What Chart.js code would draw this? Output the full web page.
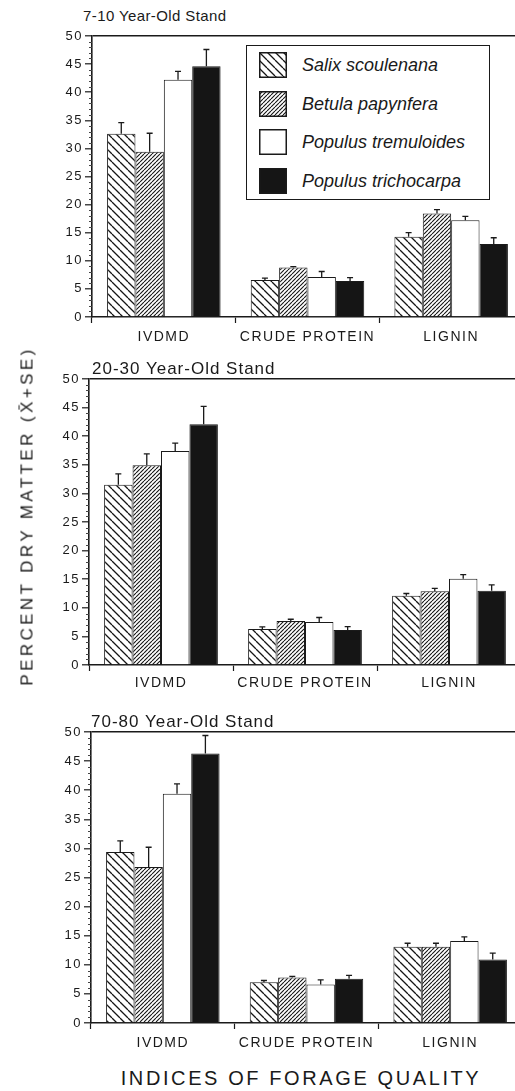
<!DOCTYPE html>
<html>
<head>
<meta charset="utf-8">
<script src="https://cdn.jsdelivr.net/npm/chart.js@4.4.0/dist/chart.umd.min.js"></script>
<style>
  html, body { margin: 0; padding: 0; background: #fff; }
  body {
    width: 515px; height: 1091px; overflow: hidden; position: relative;
    font-family: "Liberation Sans", Arial, Helvetica, sans-serif; color: #1a1a1a;
  }
  canvas.panel { position: absolute; left: 0; }
  .txt { position: absolute; white-space: nowrap; line-height: 1; }
  #legend {
    position: absolute; left: 246px; top: 45px; width: 244px; height: 155px;
    box-sizing: border-box; border: 1px solid #1a1a1a; background: #fff;
  }
  #legend canvas { position: absolute; left: 12px; }
  #legend span { position: absolute; left: 55px; font-size: 18px; font-style: italic; line-height: 1; white-space: nowrap; }
</style>
</head>
<body>

<canvas id="c0" class="panel"></canvas>
<canvas id="c1" class="panel"></canvas>
<canvas id="c2" class="panel"></canvas>

<div id="t0" class="txt" style="left:83px; top:8px; font-size:15px; letter-spacing:0.4px;"></div>
<div id="t1" class="txt" style="left:92px; top:360px; font-size:17px; letter-spacing:1px;"></div>
<div id="t2" class="txt" style="left:91px; top:713px; font-size:17px; letter-spacing:1px;"></div>

<div class="txt" style="left:27px; top:516px; font-size:17px; letter-spacing:3.4px; transform: translate(-50%, -50%) rotate(-90deg);">PERCENT DRY MATTER (X&#772;+SE)</div>
<div class="txt" style="left:301px; top:1078px; font-size:20px; letter-spacing:2.6px; transform: translate(-50%, -50%);">INDICES OF FORAGE QUALITY</div>

<div id="legend"></div>

<script>
// categories on the x axis
const categories = ['IVDMD', 'CRUDE PROTEIN', 'LIGNIN'];
const species = ['Salix scoulenana', 'Betula papynfera', 'Populus tremuloides', 'Populus trichocarpa'];
const standTitles = ['7-10 Year-Old Stand', '20-30 Year-Old Stand', '70-80 Year-Old Stand'];
const yTicks = [0, 5, 10, 15, 20, 25, 30, 35, 40, 45, 50];

// one row per species: [IVDMD, crude protein, lignin]
const means7to10 = [
  [32.6, 6.6, 14.3],
  [29.4, 8.8, 18.4],
  [42.2, 7.1, 17.2],
  [44.6, 6.4, 13.0]
];
const se7to10 = [
  [2.0, 0.3, 0.7],
  [3.3, 0.15, 0.7],
  [1.5, 1.0, 0.7],
  [3.0, 0.6, 1.1]
];

const means20to30 = [
  [31.5, 6.3, 12.1],
  [34.9, 7.7, 12.9],
  [37.4, 7.5, 15.1],
  [42.1, 6.1, 13.0]
];
const se20to30 = [
  [1.9, 0.35, 0.4],
  [2.0, 0.3, 0.5],
  [1.4, 0.8, 0.7],
  [3.1, 0.6, 1.0]
];

const means70to80 = [
  [29.4, 7.0, 13.1],
  [26.8, 7.8, 13.1],
  [39.4, 6.6, 14.1],
  [46.3, 7.6, 10.9]
];
const se70to80 = [
  [1.9, 0.3, 0.6],
  [3.4, 0.2, 0.6],
  [1.7, 0.8, 0.7],
  [3.1, 0.6, 1.1]
];

const allMeans = [means7to10, means20to30, means70to80];
const allSe = [se7to10, se20to30, se70to80];

// canvas placement for each panel (page pixels)
const layouts = [
  { top: 26, height: 321, left: 92, padRight: 7, labelPad: 6 },
  { top: 369, height: 326, left: 89, padRight: 9, labelPad: 4 },
  { top: 722, height: 331, left: 91, padRight: 8, labelPad: 5.5 }
];

const FONT = '"Liberation Sans", Arial, Helvetica, sans-serif';
const INK = '#1a1a1a';

function hatch(dir, p, lw) {
  const c = document.createElement('canvas');
  c.width = p; c.height = p;
  const g = c.getContext('2d');
  g.fillStyle = '#fff';
  g.fillRect(0, 0, p, p);
  g.strokeStyle = '#151515';
  g.lineWidth = lw;
  g.beginPath();
  for (let k = -1; k <= 1; k++) {
    if (dir === 'back') { g.moveTo(k * p, 0); g.lineTo(k * p + p, p); }
    else { g.moveTo(k * p, p); g.lineTo(k * p + p, 0); }
  }
  g.stroke();
  return g.createPattern(c, 'repeat');
}

const fills = [hatch('back', 8, 1.3), hatch('fwd', 4, 1.1), '#ffffff', '#151515'];

// error bars (mean + SE) on each bar
const errorBars = {
  id: 'errorBars',
  afterDatasetsDraw(chart) {
    const ctx = chart.ctx;
    const y = chart.scales.y;
    ctx.save();
    ctx.strokeStyle = INK;
    ctx.lineWidth = 1.3;
    chart.data.datasets.forEach((ds, i) => {
      chart.getDatasetMeta(i).data.forEach((bar, j) => {
        const top = y.getPixelForValue(ds.data[j] + ds.errors[j]);
        ctx.beginPath();
        ctx.moveTo(bar.x, bar.y);
        ctx.lineTo(bar.x, top);
        ctx.moveTo(bar.x - 3, top);
        ctx.lineTo(bar.x + 3, top);
        ctx.stroke();
      });
    });
    ctx.restore();
  }
};

// small unit ticks on the y axis
const minorTicks = {
  id: 'minorTicks',
  afterDraw(chart) {
    const ctx = chart.ctx;
    const y = chart.scales.y;
    const x0 = chart.chartArea.left;
    ctx.save();
    ctx.strokeStyle = '#444';
    ctx.lineWidth = 1;
    ctx.beginPath();
    for (let v = 1; v < 50; v++) {
      if (v % 5 === 0) continue;
      const py = Math.round(y.getPixelForValue(v)) + 0.5;
      ctx.moveTo(x0 - 3, py);
      ctx.lineTo(x0, py);
    }
    ctx.stroke();
    ctx.restore();
  }
};

const spacing = {
  id: 'spacing',
  beforeDraw(chart) { chart.ctx.letterSpacing = '1.5px'; }
};

function makeChart(idx) {
  const lay = layouts[idx];
  const canvas = document.getElementById('c' + idx);
  canvas.width = 530;
  canvas.height = lay.height;
  canvas.style.top = lay.top + 'px';
  document.getElementById('t' + idx).textContent = standTitles[idx];

  return new Chart(canvas, {
    type: 'bar',
    data: {
      labels: categories,
      datasets: species.map((name, i) => ({
        label: name,
        data: allMeans[idx][i],
        errors: allSe[idx][i],
        backgroundColor: fills[i],
        borderColor: INK,
        borderWidth: 1,
        barPercentage: 1,
        categoryPercentage: 0.79
      }))
    },
    options: {
      responsive: false,
      animation: false,
      events: [],
      layout: { padding: { left: 0, right: lay.padRight, top: 10, bottom: 0 } },
      scales: {
        x: {
          grid: { display: true, drawOnChartArea: false, offset: true, color: INK, tickColor: INK, tickLength: 6, tickWidth: 1.2 },
          border: { display: true, color: INK, width: 1.6 },
          ticks: { color: INK, font: { family: FONT, size: 14 }, padding: lay.labelPad, maxRotation: 0, minRotation: 0, autoSkip: false },
          afterFit: s => { s.height = 30; }
        },
        y: {
          min: 0,
          max: 50,
          afterBuildTicks: s => { s.ticks = yTicks.map(v => ({ value: v })); },
          grid: {
            color: c => (c.tick && c.tick.value === 50 ? INK : 'rgba(0,0,0,0)'),
            lineWidth: 1.6,
            tickColor: INK,
            tickLength: 7,
            tickWidth: 1.2
          },
          border: { display: true, color: INK, width: 1.6 },
          ticks: { color: INK, font: { family: FONT, size: 13 }, padding: 2 },
          afterFit: s => { s.width = lay.left; }
        }
      },
      plugins: {
        legend: { display: false },
        tooltip: { enabled: false }
      }
    },
    plugins: [spacing, errorBars, minorTicks]
  });
}

[0, 1, 2].forEach(makeChart);

// legend box in the first panel
const legend = document.getElementById('legend');
species.forEach((name, i) => {
  const top = 6 + i * 38.7;
  const sw = document.createElement('canvas');
  sw.width = 28; sw.height = 26;
  sw.style.top = top + 'px';
  const g = sw.getContext('2d');
  g.fillStyle = fills[i];
  g.fillRect(0, 0, 28, 26);
  g.strokeStyle = INK;
  g.lineWidth = 1.5;
  g.strokeRect(0.75, 0.75, 26.5, 24.5);
  legend.appendChild(sw);
  const label = document.createElement('span');
  label.textContent = name;
  label.style.top = (top + 13 - 9) + 'px';
  legend.appendChild(label);
});
</script>
</body>
</html>
